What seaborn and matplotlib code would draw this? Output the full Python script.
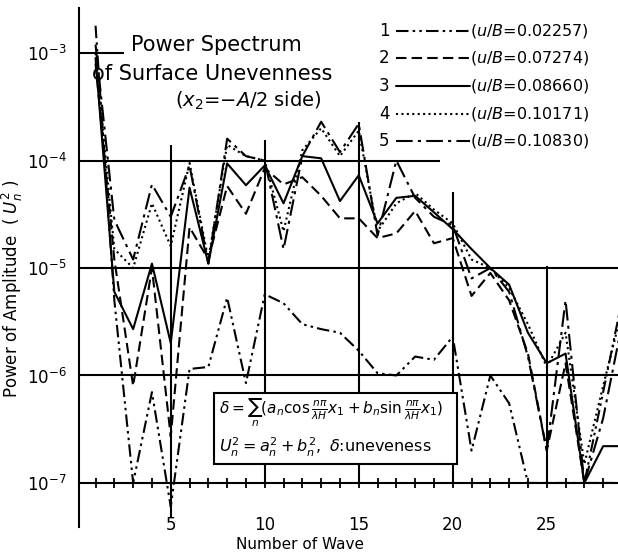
import numpy as np
import pandas as pd
import seaborn as sns
import matplotlib.pyplot as plt
from matplotlib.patches import Rectangle
from matplotlib.ticker import MultipleLocator, NullLocator, FixedLocator

# number of wave
n = list(range(1, 30))

# power of amplitude U_n^2 (one list per run)
s1 = [1.8e-3, 5e-6, 1.0e-7, 7e-7, 6e-8, 1.15e-6, 1.2e-6, 5.3e-6, 8.5e-7, 5.7e-6,
      4.7e-6, 3.0e-6, 2.7e-6, 2.5e-6, 1.7e-6, 1.05e-6, 1.0e-6, 1.5e-6, 1.4e-6, 2.3e-6,
      2.0e-7, 1.0e-6, 5.5e-7, 1.0e-7, 1.0e-7, 1.0e-7, 1.0e-7, 7e-7, 5e-6]
s2 = [8e-4, 1.2e-5, 8e-7, 1.0e-5, 2.7e-7, 2.4e-5, 1.2e-5, 5.8e-5, 3.2e-5, 8.5e-5,
      6e-5, 7e-5, 4.7e-5, 2.9e-5, 2.9e-5, 1.9e-5, 2.1e-5, 3.4e-5, 1.7e-5, 1.9e-5,
      5.5e-6, 9e-6, 5e-6, 1.6e-6, 2e-7, 1.3e-6, 1e-7, 1e-7, 1e-7]
s3 = [9e-4, 6e-6, 2.7e-6, 1.1e-5, 2e-6, 5.6e-5, 1.1e-5, 9.4e-5, 5.9e-5, 9e-5,
      4e-5, 1.1e-4, 1.05e-4, 4.2e-5, 7.3e-5, 2.6e-5, 4.5e-5, 4.7e-5, 3.3e-5, 2.3e-5,
      1.5e-5, 1e-5, 7e-6, 2.5e-6, 1.3e-6, 1.6e-6, 1e-7, 2.2e-7, 2.2e-7]
s4 = [1e-3, 1.5e-5, 1e-5, 4e-5, 1.6e-5, 9.5e-5, 1.2e-5, 1.4e-4, 1.1e-4, 1e-4,
      2.2e-5, 1.25e-4, 2.0e-4, 1.1e-4, 1.9e-4, 2.2e-5, 4e-5, 5e-5, 3.5e-5, 2.6e-5,
      1.2e-5, 1.0e-5, 6.5e-6, 3e-6, 1.2e-6, 2.5e-6, 1.5e-7, 8e-7, 4e-6]
s5 = [1.2e-3, 2.8e-5, 1.2e-5, 6e-5, 3e-5, 9e-5, 1.1e-5, 1.6e-4, 1.1e-4, 1.0e-4,
      1.5e-5, 1.1e-4, 2.3e-4, 1.2e-4, 2.2e-4, 2e-5, 1e-4, 4.5e-5, 3e-5, 2.5e-5,
      8e-6, 1e-5, 6e-6, 1.5e-6, 2e-7, 5e-6, 1e-7, 4e-7, 3e-6]

numeros = ['1', '2', '3', '4', '5']
rotulos = ['0.02257', '0.07274', '0.08660', '0.10171', '0.10830']

tracos = {
    '1': (6, 2, 1.2, 2, 1.2, 2),
    '2': (5, 2.5),
    '3': '',
    '4': (1, 1.6),
    '5': (8, 2.5, 1.5, 2.5),
}

df = pd.DataFrame({
    'n': n * 5,
    'power': s1 + s2 + s3 + s4 + s5,
    'serie': [k for k in numeros for _ in n],
})

sns.set_style('white')
plt.rcParams['font.family'] = ['DejaVu Sans']
plt.rcParams['mathtext.fontset'] = 'dejavusans'
plt.rcParams['text.color'] = 'black'
plt.rcParams['axes.labelcolor'] = 'black'
plt.rcParams['xtick.color'] = 'black'
plt.rcParams['ytick.color'] = 'black'

fig = plt.figure(figsize=(6.18, 5.56), dpi=100)
ax = fig.add_axes([79 / 618, 1 - 527 / 556, 539 / 618, 519 / 556])

sns.lineplot(data=df, x='n', y='power', hue='serie', style='serie',
             palette=['black'] * 5, dashes=tracos, linewidth=1.5,
             legend=False, ax=ax)

ax.set_yscale('log')
x0, x1 = 0.12, 28.79
ax.set_xlim(x0, x1)
ax.set_ylim(10 ** -7.41, 10 ** -2.58)

# grade parcial como no original
ax.hlines([1e-5, 1e-6], x0, x1, color='black', lw=1.5)
ax.hlines(1e-4, x0, 19.3, color='black', lw=1.5)
ax.hlines(1e-3, x0, 2.5, color='black', lw=1.5)
ax.vlines([5, 10, 15, 20, 25], [4.8e-8, 1e-7, 1e-7, 1e-7, 1e-7],
          [1.39e-4, 1.55e-4, 2.3e-4, 5.1e-5, 1.05e-5], color='black', lw=1.5)

for s in ['top', 'right']:
    ax.spines[s].set_visible(False)
ax.spines['bottom'].set_position(('data', 1e-7))
for s in ['left', 'bottom']:
    ax.spines[s].set_linewidth(1.5)
    ax.spines[s].set_color('black')

ax.yaxis.set_major_locator(FixedLocator([1e-7, 1e-6, 1e-5, 1e-4, 1e-3]))
ax.yaxis.set_minor_locator(NullLocator())
ax.tick_params(axis='y', length=0, pad=9, labelsize=12)

ax.xaxis.set_major_locator(FixedLocator([5, 10, 15, 20, 25]))
ax.xaxis.set_minor_locator(MultipleLocator(1))
ax.tick_params(axis='x', which='both', direction='inout', length=7, width=1.3,
               color='black', bottom=True)
ax.tick_params(axis='x', which='major', pad=20, labelsize=12)

ax.set_xlabel('Number of Wave', fontsize=11)
ax.xaxis.set_label_coords(0.41, -0.02)
ax.set_ylabel(r'Power of Amplitude  ( $U_n^2$ )', fontsize=12)
ax.yaxis.set_label_coords(-0.1, 0.46)


def pos(px, py):
    return (px - 79) / 539, (527 - py) / 519


# titulo dentro do grafico
ax.text(*pos(216, 45), 'Power Spectrum', transform=ax.transAxes,
        ha='center', va='center', fontsize=15)
ax.text(*pos(212, 74), 'of Surface Unevenness', transform=ax.transAxes,
        ha='center', va='center', fontsize=15)
ax.text(*pos(248, 101), r'($x_2$=$-A/2$ side)', transform=ax.transAxes,
        ha='center', va='center', fontsize=14)

# legenda desenhada a mao
linhas_y = [31, 58, 86, 114, 141]
for num, rot, py in zip(numeros, rotulos, linhas_y):
    ax.text(*pos(384, py), num, transform=ax.transAxes, ha='center',
            va='center', fontsize=12)
    xa, ya = pos(396, py)
    xb, _ = pos(470, py)
    ls = '-' if tracos[num] == '' else (0, tracos[num])
    ax.plot([xa, xb], [ya, ya], transform=ax.transAxes, color='black',
            lw=1.5, linestyle=ls, clip_on=False)
    ax.text(*pos(470, py), '(' + r'$u/B$' + '=' + rot + ')',
            transform=ax.transAxes, ha='left', va='center', fontsize=11.5)

# caixa da formula
bx0, by0 = pos(214, 464)
bx1, by1 = pos(457, 393)
ax.add_patch(Rectangle((bx0, by0), bx1 - bx0, by1 - by0, transform=ax.transAxes,
                       facecolor='white', edgecolor='black', lw=1.5, zorder=5))
ax.text(*pos(219, 413),
        r'$\delta=\sum_n(a_n\cos\frac{n\pi}{\lambda H}x_1+b_n\sin\frac{n\pi}{\lambda H}x_1)$',
        transform=ax.transAxes, ha='left', va='center', fontsize=11, zorder=6)
ax.text(*pos(219, 447), r'$U_n^2=a_n^2+b_n^2,\ \delta$:uneveness',
        transform=ax.transAxes, ha='left', va='center', fontsize=11.5, zorder=6)

fig.savefig('out.png', dpi=100)
